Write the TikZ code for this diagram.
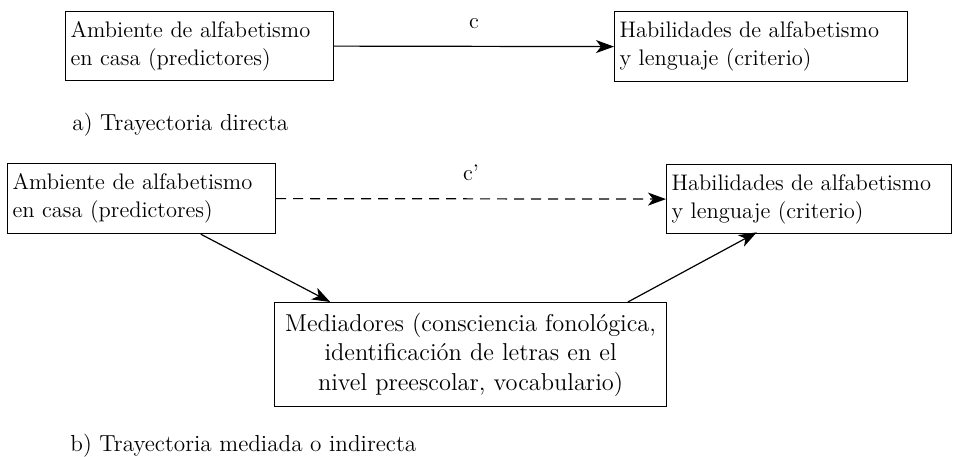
\documentclass[tikz,border=0pt]{standalone}
\usetikzlibrary{arrows.meta, calc}
\tikzset{
	caja/.style = {draw, line width = 0.6pt, anchor = north west, inner xsep = 2.5pt, inner ysep = 0pt, align = left, font = \fontsize{11.25}{14}\selectfont},
	flecha/.style = {-{Stealth[length = 9pt, width = 6.5pt, inset = 2.5pt]}, line width = 0.6pt},
	rotulo/.style = {anchor = west, inner sep = 0pt, font = \fontsize{11.6}{14}\selectfont}
}

\begin{document}
\begin{tikzpicture}[x = 0.5pt, y = -0.5pt]
		\useasboundingbox (0, 0) rectangle (954, 456);
		% a) trayectoria directa
		\node[caja, text width = 129pt, minimum height = 34.5pt] (amb1) at (65, 11) {Ambiente de alfabetismo\\en casa (predictores)};
		\node[caja, text width = 141.5pt, minimum height = 35pt] (hab1) at (614, 11) {Habilidades de alfabetismo\\y lenguaje (criterio)};
		\draw[flecha] (amb1.east) -- (hab1.west) node[midway, above = 5pt, font = \fontsize{11.25}{14}\selectfont] {c};
		\node[rotulo] (capa) at (72, 125) {a) Trayectoria directa};
		% b) trayectoria mediada
		\node[caja, text width = 129pt, minimum height = 35pt] (amb2) at (7, 163) {Ambiente de alfabetismo\\en casa (predictores)};
		\node[caja, text width = 137.5pt, minimum height = 34.5pt] (hab2) at (666, 164) {Habilidades de alfabetismo\\y lenguaje (criterio)};
		\node[caja, text width = 191pt, minimum height = 52pt, align = center, font = \fontsize{12.2}{14.75}\selectfont] (med) at (274, 302) {Mediadores (consciencia fonológica,\\identificación de letras en el\\nivel preescolar, vocabulario)};
		\draw[flecha, dash pattern = on 5pt off 3.5pt] (amb2.east) -- (hab2.west) node[midway, above = 5.5pt, font = \fontsize{11.25}{14}\selectfont] {c'};
		\draw[flecha] ($(amb2.south west)!0.72!(amb2.south east)$) -- ($(med.north west)!0.143!(med.north east)$);
		\draw[flecha, shorten > = -2pt] ($(med.north west)!0.9!(med.north east)$) -- ($(hab2.south west)!0.305!(hab2.south east)$);
		\node[rotulo] (capb) at (70, 446) {b) Trayectoria mediada o indirecta};
	\end{tikzpicture}
\end{document}
